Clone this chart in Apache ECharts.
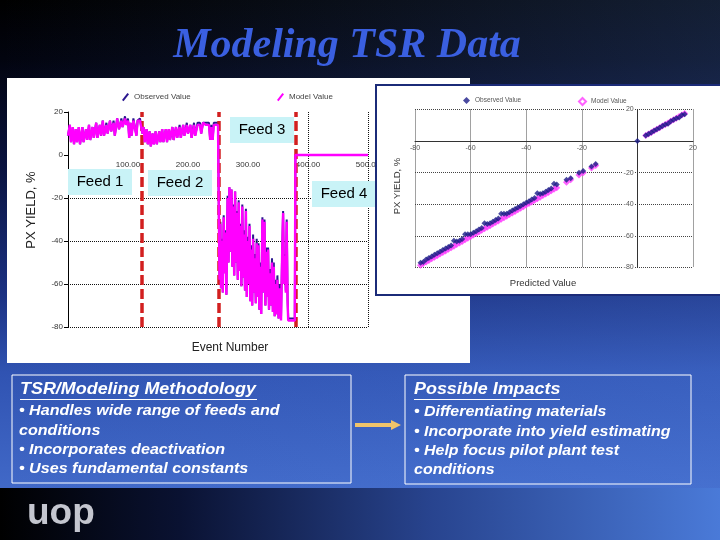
<!DOCTYPE html>
<html><head><meta charset="utf-8">
<script src="https://cdn.jsdelivr.net/npm/echarts@6/dist/echarts.min.js"></script>
<style>html,body{margin:0;padding:0;background:#000;}#c{width:720px;height:540px;}</style>
</head><body><div id="c"></div>
<script>
// ---------- data: time series (event number vs PX yield, %) ----------
const eventsFeed12 = [0,3,5,8,10,13,15,18,20,24,26,30,32,35,37,41,43,47,49,53,55,58,60,64,66,70,72,76,78,82,85,89,91,95,97,100,102,104,106,109,112,114,116,120,122,
  124,126,128,131,133,136,138,141,143,146,148,152,154,157,159,163,165,168,170,174,176,180,182,186,188,192,194,198,200,204,206,210,212,216,220,222,225,230,235,237,239,241,243,250,252];
const modelFeed12 = [9,14,6,13,5,12,6,13,5,13,6,12,7,14,7,13,8,15,8,14,9,16,9,14,10,16,11,15,9,17,12,16,13,17,14,16,8,15,9,16,16,9,16,16,13,
  10,13,6,12,5,11,4,10,5,11,5,11,6,12,6,12,6,12,7,13,7,13,8,13,8,14,9,14,10,14,8,14,9,14,14,10,15,14,14,7,13,7,14,14,14];
const observedFeed12 = [9,14,6,13,5,12,6,13,5,13,6,12,7,14,7,13,8,15,8,14,9,16,9,15,10,16,11,16,9,17,12,17,13,18,14,17,8,15,9,17,17,9,16,17,13,
  10,13,6,12,5,11,4,10,5,11,5,11,6,12,6,12,6,12,7,13,7,13,8,14,8,14,9,15,10,14,8,15,9,15,15,10,15,15,15,7,14,7,15,15,15];
const eventsFeed34 = [252.5,254,255,256.5,258,259.5,261,262.5,264,266,267.5,269,271,272.5,274,275.5,277,278.5,280,281.5,
  283,284.5,286,287.5,289,290.5,292,293.5,295,296.5,298,299.5,301,302.5,304,305.5,307,308.5,310,311.5,
  313,314.5,316,317.5,319,320.5,322,324,326,327.5,329,330.5,332,333.5,335,336.5,338,340,341.5,343,
  344.5,346,347.5,349,351,353,355,357,358.5,360,361.5,363,364.5,366,367,378,379,500];
const modelFeed34 = [-58,-32,-62,-40,-64,-29,-55,-36,-65,-20,-50,-15,-45,-16,-52,-24,-56,-17,-50,-27,
  -58,-22,-54,-33,-61,-24,-57,-37,-63,-26,-66,-40,-60,-33,-68,-44,-70,-39,-64,-48,
  -69,-41,-66,-42,-72,-52,-74,-30,-64,-31,-70,-45,-66,-44,-72,-55,-70,-50,-73,-52,
  -75,-60,-74,-58,-76,-62,-77,-45,-27,-60,-47,-64,-31,-68,-77,-77,0,0];
const observedFeed34 = [-58,-31,-62,-39,-64,-28,-55,-35,-65,-19,-50,-15,-45,-16,-52,-23,-56,-17,-50,-26,
  -58,-21,-54,-32,-61,-23,-57,-35,-63,-25,-66,-38,-60,-32,-68,-42,-70,-37,-64,-46,
  -69,-39,-66,-41,-72,-50,-74,-29,-64,-30,-70,-43,-66,-43,-72,-53,-70,-48,-73,-50,
  -75,-58,-74,-56,-76,-60,-76,-44,-26,-59,-46,-63,-30,-67,-76,-76,0,0];
const events = eventsFeed12.concat(eventsFeed34);
const modelYield = modelFeed12.concat(modelFeed34);
const observedYield = observedFeed12.concat(observedFeed34);
const feedBoundaries = [123, 252, 380];
const feedLabels = ['Feed 1','Feed 2','Feed 3','Feed 4'];

// ---------- data: parity plot (predicted vs PX yield, %) ----------
const predicted = [-78,-77,-76,-75,-74,-73,-72,-71,-70,-69,-68,-67,-66,-65,-64,-63,-62,-61,-60,-59,
  -58,-57,-56,-55,-54,-53,-52,-51,-50,-49,-48,-47,-46,-45,-44,-43,-42,-41,-40,-39,
  -38,-37,-36,-35,-34,-33,-32,-31,-30,-29,-25.5,-24,-21,-19.5,-16.5,-15,0,
  3,4,5,6,7,8,9,10,11,12,13,14,15,16,17];
const scatterObserved = [-77,-76.5,-75,-74,-73,-72,-71,-70,-69,-68,-67,-66,-63,-63.5,-63,-62,-59,-59,-59,-58,
  -57,-56,-55,-52,-52.5,-52,-51,-50,-49,-46,-46,-46,-45,-44,-43,-42,-41,-40,-39,-38,
  -37,-36,-33,-33.5,-33,-32,-31,-30,-27,-27.5,-24.5,-23.5,-20,-19,-16,-14.5,0,
  3.5,4.5,5.5,6.5,7.5,8.5,9.5,10.5,11,12.5,13.5,14.5,15,16.5,17];
const scatterModel = [-78.5,-77.5,-76.5,-75.5,-74.5,-73.5,-72.5,-71.5,-70.5,-69.5,-68.5,-67.5,-66.5,-65.5,-64.5,-63.5,-62.5,-61.5,-60.5,-59.5,
  -58.5,-57.5,-56.5,-55.5,-54.5,-53.5,-52.5,-51.5,-50.5,-49.5,-48.5,-47.5,-46.5,-45.5,-44.5,-43.5,-42.5,-41.5,-40.5,-39.5,
  -38.5,-37.5,-36.5,-35.5,-34.5,-33.5,-32.5,-31.5,-30.5,-29.5,-26,-24.5,-21.5,-20,-17,-15.5,'-',
  3.5,4.5,5.5,6.5,7.5,8.5,9.5,10.5,11.5,12.5,13.5,14.5,15.5,16.5,17.5];

const seriesNames = {obs1:'Observed Value', mod1:'Model Value', obs2:'Observed Value', mod2:'Model Value'};
const SANS = '"Liberation Sans", Arial, sans-serif';

const chart = echarts.init(document.getElementById('c'), null, {renderer:'canvas'});

function txt(text, x, y, font, fill, z, align, scaleX) {
  const a = align || 'left';
  return {type:'text', z:z, silent:true, x:x, y:y, scaleX:scaleX||1, scaleY:1,
    style:{text:text, x:0, y:0, font:font, fill:fill, align:a, verticalAlign:'middle', textAlign:a, textVerticalAlign:'middle'}};
}
function feedBox(label, x, y) {
  return {type:'group', z:6, children:[
    {type:'rect', z:6, shape:{x:x, y:y, width:64, height:26}, style:{fill:'#c9f3f7'}},
    {type:'text', z:7, style:{text:label, x:x+32, y:y+13, font:'15px '+SANS, fill:'#000', align:'center', verticalAlign:'middle', textAlign:'center', textVerticalAlign:'middle'}}
  ]};
}
const HEAD = 'italic bold 16px '+SANS, BODY = 'italic bold 14px '+SANS;

const graphic = [
  {type:'rect', z:0, silent:true, shape:{x:0,y:0,width:720,height:490},
    style:{fill:{type:'linear',x:0,y:0,x2:0,y2:1,colorStops:[
      {offset:0,color:'#000000'},{offset:0.12,color:'#02040f'},{offset:0.35,color:'#0a1442'},
      {offset:0.6,color:'#1b3182'},{offset:0.76,color:'#3053b2'},{offset:1,color:'#4169c8'}]}}},
  {type:'rect', z:0, z2:1, silent:true, shape:{x:0,y:0,width:720,height:490},
    style:{fill:{type:'linear',x:0,y:0,x2:1,y2:0,colorStops:[
      {offset:0,color:'rgba(90,140,235,0)'},{offset:1,color:'rgba(90,140,235,0.22)'}]}}},
  {type:'rect', z:0, z2:2, silent:true, shape:{x:0,y:488,width:720,height:52},
    style:{fill:{type:'linear',x:0,y:0,x2:1,y2:0,colorStops:[
      {offset:0,color:'#000000'},{offset:0.25,color:'#0a1232'},{offset:0.6,color:'#28448f'},{offset:1,color:'#4a7ad8'}]}}},
  txt('Modeling TSR Data', 347, 46, 'italic bold 42px "Liberation Serif", "Times New Roman", serif', '#3a5fe0', 1, 'center'),
  // left chart panel
  {type:'rect', z:1, silent:true, shape:{x:7,y:78,width:463,height:285}, style:{fill:'#ffffff'}},
  {type:'text', z:2, silent:true, x:31, y:210, rotation:Math.PI/2,
    style:{text:'PX YIELD, %', x:0, y:0, font:'13px '+SANS, fill:'#222', align:'center', verticalAlign:'middle', textAlign:'center', textVerticalAlign:'middle'}},
  txt('Event Number', 230, 348, '12px '+SANS, '#222', 2, 'center'),
  feedBox(feedLabels[0], 68, 169),
  feedBox(feedLabels[1], 148, 170),
  feedBox(feedLabels[2], 230, 117),
  feedBox(feedLabels[3], 312, 181),
  // right chart panel
  {type:'rect', z:8, silent:true, shape:{x:376,y:85,width:345,height:210}, style:{fill:'#ffffff', stroke:'#1b2b78', lineWidth:2}},
  {type:'text', z:9, silent:true, x:397, y:186, rotation:Math.PI/2,
    style:{text:'PX YIELD, %', x:0, y:0, font:'9.5px '+SANS, fill:'#333', align:'center', verticalAlign:'middle', textAlign:'center', textVerticalAlign:'middle'}},
  txt('Predicted Value', 543, 283, '9.5px '+SANS, '#333', 9, 'center'),
  // bottom boxes
  {type:'rect', z:12, silent:true, shape:{x:12,y:375,width:339,height:108}, style:{fill:'none', stroke:'#ffffff', lineWidth:1}},
  {type:'rect', z:12, silent:true, shape:{x:405,y:375,width:286,height:109}, style:{fill:'none', stroke:'#ffffff', lineWidth:1}},
  txt('TSR/Modeling Methodology', 20, 390, HEAD, '#fff', 13, 'left', 1.12),
  {type:'line', z:13, silent:true, shape:{x1:20,y1:399.5,x2:257,y2:399.5}, style:{stroke:'#fff', lineWidth:1.2}},
  txt('• Handles wide range of feeds and', 19, 411.5, BODY, '#fff', 13, 'left', 1.15),
  txt('conditions', 19, 431.5, BODY, '#fff', 13, 'left', 1.15),
  txt('• Incorporates deactivation', 19, 450, BODY, '#fff', 13, 'left', 1.15),
  txt('• Uses fundamental constants', 19, 469, BODY, '#fff', 13, 'left', 1.15),
  txt('Possible Impacts', 414, 390, HEAD, '#fff', 13, 'left', 1.12),
  {type:'line', z:13, silent:true, shape:{x1:414,y1:399.5,x2:560,y2:399.5}, style:{stroke:'#fff', lineWidth:1.2}},
  txt('• Differentiating materials', 414, 412, BODY, '#fff', 13, 'left', 1.14),
  txt('• Incorporate into yield estimating', 414, 432, BODY, '#fff', 13, 'left', 1.14),
  txt('• Help focus pilot plant test', 414, 451, BODY, '#fff', 13, 'left', 1.14),
  txt('conditions', 414, 470, BODY, '#fff', 13, 'left', 1.14),
  {type:'polygon', z:13, silent:true, shape:{points:[[355,423],[391,423],[391,420],[401,425],[391,430],[391,427],[355,427]]}, style:{fill:'#f0c46a'}},
  txt('uop', 27, 514, 'bold 37px '+SANS, '#c4c6cf', 13)
];

const option = {
  animation:false,
  backgroundColor:'transparent',
  graphic:graphic,
  legend:[
    {data:['obs1'], left:117, top:88, itemWidth:7, itemHeight:9, icon:'path://M0,9 L7,0 L9,1.5 L2,10.5 Z', itemGap:0, z:11,
      formatter:n=>seriesNames[n], textStyle:{fontSize:8, color:'#444', fontFamily:SANS}},
    {data:['mod1'], left:272, top:88, itemWidth:7, itemHeight:9, icon:'path://M0,9 L7,0 L9,1.5 L2,10.5 Z', itemGap:0, z:11,
      formatter:n=>seriesNames[n], textStyle:{fontSize:8, color:'#444', fontFamily:SANS}},
    {data:['obs2'], left:458, top:92, itemWidth:7, itemHeight:7, itemGap:0, z:11,
      formatter:n=>seriesNames[n], textStyle:{fontSize:6.5, color:'#555', fontFamily:SANS}},
    {data:[{name:'mod2', icon:'emptyDiamond'}], left:573, top:92, itemWidth:7, itemHeight:7, itemGap:0, z:11,
      formatter:n=>seriesNames[n], textStyle:{fontSize:6.5, color:'#555', fontFamily:SANS}}
  ],
  grid:[
    {left:68, top:112, width:300, height:215, z:3},
    {left:415, top:109.5, width:278, height:158, z:9}
  ],
  xAxis:[
    {type:'value', gridIndex:0, min:0, max:500, interval:100, z:3, position:'bottom', offset:-172,
      axisLine:{show:false, onZero:false},
      axisTick:{show:false}, splitLine:{show:false},
      axisLabel:{showMinLabel:false, fontSize:8, color:'#333', margin:6, fontFamily:SANS, formatter:v=>v.toFixed(2)}},
    {type:'value', gridIndex:1, min:-80, max:20, interval:20, z:9, position:'bottom', offset:-126.2,
      axisLine:{show:true, onZero:false, lineStyle:{color:'#333', width:1}},
      axisTick:{show:false},
      splitLine:{show:true, lineStyle:{type:'dotted', color:'#444', width:1}},
      axisLabel:{fontSize:7, color:'#555', margin:3, fontFamily:SANS, formatter:v=>v===0?'':String(v)}}
  ],
  yAxis:[
    {type:'value', gridIndex:0, min:-80, max:20, interval:20, z:3,
      axisLine:{show:true, onZero:false, lineStyle:{color:'#000', width:1}},
      axisTick:{show:true, length:4, lineStyle:{color:'#000'}},
      splitLine:{show:false},
      axisLabel:{fontSize:8, color:'#333', margin:5, fontFamily:SANS}},
    {type:'value', gridIndex:1, min:-80, max:20, interval:20, z:9, position:'left', offset:-222.7,
      axisLine:{show:true, onZero:false, lineStyle:{color:'#333', width:1}},
      axisTick:{show:false},
      splitLine:{show:true, lineStyle:{type:'dotted', color:'#444', width:1}},
      axisLabel:{fontSize:7, color:'#555', margin:3, fontFamily:SANS, backgroundColor:'#fff', padding:[0,1],
        formatter:v=>v===0?'':String(v)}}
  ],
  series:[
    {name:'gridlines', type:'line', xAxisIndex:0, yAxisIndex:0, z:3, silent:true, showSymbol:false, symbol:'none',
      data:[[0,-80]], lineStyle:{width:0},
      markLine:{symbol:'none', silent:true, label:{show:false}, animation:false,
        lineStyle:{type:'dotted', color:'#111', width:1},
        data:[{yAxis:-20},{yAxis:-40},{yAxis:-60},{yAxis:-80},{xAxis:400},{xAxis:500}]}},
    {name:'obs1', type:'line', xAxisIndex:0, yAxisIndex:0, z:4, showSymbol:false, symbol:'none',
      itemStyle:{color:'#2a168e'}, lineStyle:{color:'#2a168e', width:2},
      data:events.map((e,i)=>[e, observedYield[i]])},
    {name:'mod1', type:'line', xAxisIndex:0, yAxisIndex:0, z:5, showSymbol:false, symbol:'none',
      itemStyle:{color:'#ff00ff'}, lineStyle:{color:'#ff00ff', width:2.4},
      data:events.map((e,i)=>[e, modelYield[i]]),
      markLine:{symbol:'none', silent:true, label:{show:false}, animation:false,
        lineStyle:{type:[10,4], color:'#d21f1f', width:3.5},
        data:feedBoundaries.map(b=>({xAxis:b}))}},
    {name:'mod2', type:'scatter', xAxisIndex:1, yAxisIndex:1, z:10, symbol:'diamond', symbolSize:7,
      itemStyle:{color:'#ff3cff'},
      data:predicted.map((x,i)=>[x, scatterModel[i]]).filter(p=>p[1]!=='-')},
    {name:'obs2', type:'scatter', xAxisIndex:1, yAxisIndex:1, z:11, symbol:'diamond', symbolSize:6,
      itemStyle:{color:'#1c1c88'},
      data:predicted.map((x,i)=>[x, scatterObserved[i]])}
  ]
};
chart.setOption(option);
</script></body></html>
